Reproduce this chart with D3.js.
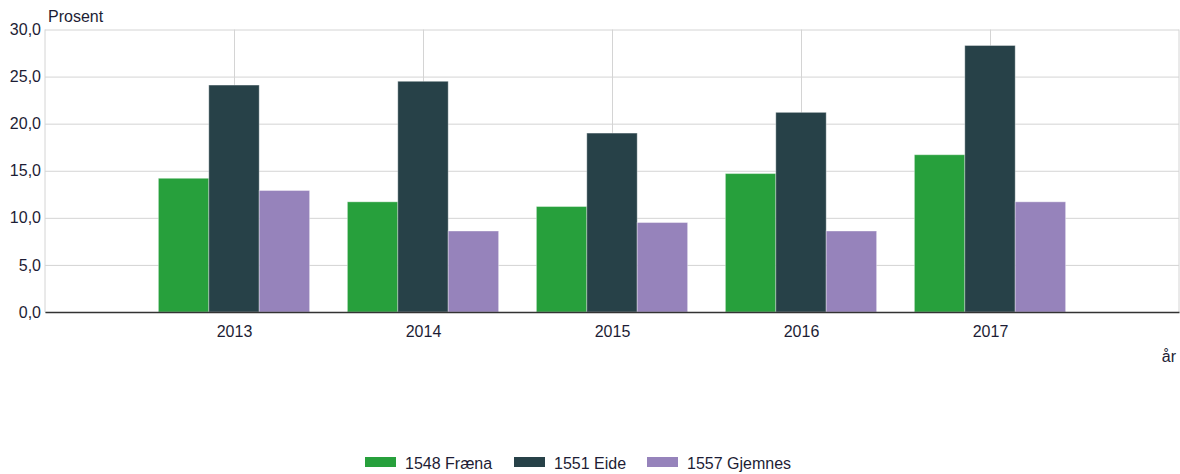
<!DOCTYPE html>
<html>
<head>
<meta charset="utf-8">
<script src="https://cdn.jsdelivr.net/npm/d3@7"></script>
<style>
body { margin: 0; background: #fff; }
text { font-family: "Liberation Sans", Arial, sans-serif; fill: #1d1d35; }
</style>
</head>
<body>
<svg id="Viz"></svg>
<script>
// data
let years = ["2013", "2014", "2015", "2016", "2017"];
let seriesNames = ["1548 Fræna", "1551 Eide", "1557 Gjemnes"];
let fraena = [14.2, 11.7, 11.2, 14.7, 16.7];
let eide = [24.1, 24.5, 19.0, 21.2, 28.3];
let gjemnes = [12.9, 8.6, 9.5, 8.6, 11.7];
let colors = ["#27a03c", "#274148", "#9683bb"];
let yTicks = [0, 5, 10, 15, 20, 25, 30];

let Width = 1180, Height = 474;
let margin = {top: 29.5, right: 1, bottom: 162, left: 45};
let w = Width - margin.left - margin.right;
let h = Height - margin.top - margin.bottom;
let fs = "16px";

let vizArea = d3.select('#Viz').attr("width", Width).attr("height", Height);
let g = vizArea.append("g").attr("transform", "translate(" + margin.left + "," + margin.top + ")");

// one empty slot on each side of the years
let slots = ["", ...years, " "];
let xScale = d3.scalePoint().domain(slots).range([0, w]);
let step = xScale.step();
let inner = d3.scaleBand().domain(seriesNames).range([-step * 0.4, step * 0.4]);
let yScale = d3.scaleLinear().domain([0, 30]).range([h, 0]);

let fmt = d => d3.format(".1f")(d).replace(".", ",");

// horizontal grid
g.append("g")
  .call(d3.axisLeft(yScale).tickValues(yTicks).tickSize(-w).tickFormat(""))
  .call(a => a.select(".domain").remove())
  .selectAll("line").attr("stroke", "#d4d4d4");

// vertical grid at year centres
g.append("g")
  .call(d3.axisBottom(xScale).tickValues(years).tickSize(-h).tickFormat(""))
  .attr("transform", "translate(0," + h + ")")
  .call(a => a.select(".domain").remove())
  .selectAll("line").attr("stroke", "#d4d4d4");

// frame
g.append("line").attr("x1", 0).attr("x2", 0).attr("y1", 0).attr("y2", h).attr("stroke", "#d4d4d4");
g.append("line").attr("x1", w).attr("x2", w).attr("y1", 0).attr("y2", h).attr("stroke", "#d4d4d4");

let rows = years.map((y, i) => ({year: y, vals: [fraena[i], eide[i], gjemnes[i]]}));

g.selectAll(".grp")
  .data(rows)
  .enter()
  .append("g")
  .attr("transform", d => "translate(" + xScale(d.year) + ",0)")
  .selectAll("rect")
  .data(d => d.vals.map((v, k) => ({name: seriesNames[k], v: v, k: k})))
  .enter()
  .append("rect")
  .attr("x", d => inner(d.name))
  .attr("width", inner.bandwidth())
  .attr("y", d => yScale(d.v))
  .attr("height", d => h - yScale(d.v))
  .attr("fill", d => colors[d.k])
  .attr("stroke", "#ffffff")
  .attr("stroke-opacity", 0.35)
  .attr("stroke-width", 1);

// y axis labels
let yAx = g.append("g")
  .call(d3.axisLeft(yScale).tickValues(yTicks).tickSize(0).tickPadding(4).tickFormat(fmt));
yAx.select(".domain").remove();
yAx.selectAll("text").style("font-size", fs).style("font-family", "Liberation Sans, Arial, sans-serif").attr("fill", "#1d1d35");

// x axis
let xAx = g.append("g")
  .attr("transform", "translate(0," + h + ")")
  .call(d3.axisBottom(xScale).tickValues(years).tickSize(0).tickPadding(14));
xAx.select(".domain").attr("stroke", "#333").attr("stroke-width", 1.5);
xAx.selectAll("text").style("font-size", fs).style("font-family", "Liberation Sans, Arial, sans-serif").attr("fill", "#1d1d35");

vizArea.append("text").attr("x", 48).attr("y", 22).style("font-size", fs).text("Prosent");
vizArea.append("text").attr("x", 1176).attr("y", 362).attr("text-anchor", "end").style("font-size", fs).text("år");

// legend
let legX = [365, 514, 647];
let leg = vizArea.append("g");
seriesNames.forEach((n, k) => {
  leg.append("rect").attr("x", legX[k]).attr("y", 457).attr("width", 31).attr("height", 10).attr("fill", colors[k]);
  leg.append("text").attr("x", legX[k] + 40).attr("y", 469).style("font-size", fs).text(n);
});
</script>
</body>
</html>
